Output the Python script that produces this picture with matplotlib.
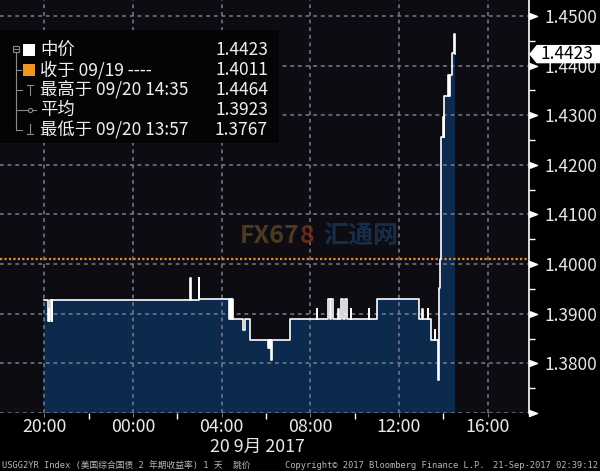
import matplotlib
matplotlib.use("Agg")
import matplotlib.pyplot as plt
import matplotlib.transforms as mtransforms
from matplotlib.lines import Line2D
from matplotlib.patches import Rectangle, Polygon
from matplotlib.path import Path
from matplotlib.markers import MarkerStyle
import numpy as np

plt.rcParams['font.family'] = ['Noto Sans CJK SC', 'DejaVu Sans']

# ---------------- data ----------------
times = ["20:00", "20:09", "20:12", "20:13", "20:15", "20:20", "20:22",
         "02:35", "02:37", "02:58", "03:00",
         "04:21", "04:23", "04:26", "04:28", "04:32", "04:59", "05:02",
         "05:16", "06:06", "06:07", "06:10", "06:11", "06:15", "06:17",
         "07:04", "08:17", "08:19", "08:49", "08:54", "08:57", "09:02",
         "09:16", "09:18", "09:24", "09:29", "09:35", "09:40", "09:49",
         "09:51", "10:38", "10:40", "11:02", "12:54", "13:03", "13:05",
         "13:18", "13:20", "13:26", "13:37", "13:39", "13:46", "13:49",
         "13:52", "13:55", "14:00", "14:02", "14:03", "14:13", "14:15",
         "14:18", "14:24", "14:29", "14:31", "14:32"]
values = [1.3928, 1.3886, 1.3910, 1.3886, 1.3928, 1.3886, 1.3928,
          1.3972, 1.3928, 1.3972, 1.3929,
          1.3889, 1.3929, 1.3889, 1.3929, 1.3889, 1.3868, 1.3889,
          1.3848, 1.3830, 1.3848, 1.3830, 1.3848, 1.3806, 1.3848,
          1.3889, 1.3909, 1.3889, 1.3929, 1.3889, 1.3929, 1.3889,
          1.3909, 1.3889, 1.3929, 1.3889, 1.3929, 1.3889, 1.3909,
          1.3889, 1.3909, 1.3889, 1.3929, 1.3889, 1.3909, 1.3889,
          1.3909, 1.3889, 1.3848, 1.3868, 1.3848, 1.3767, 1.3951,
          1.4011, 1.4257, 1.4297, 1.4257, 1.4339, 1.4381, 1.4339,
          1.4381, 1.4425, 1.4464, 1.4423, 1.4423]
prev_close = 1.4011
last_price = 1.4423

legend_labels = ["中价", "收于 09/19 ----", "最高于 09/20 14:35", "平均", "最低于 09/20 13:57"]
legend_values = ["1.4423", "1.4011", "1.4464", "1.3923", "1.3767"]

ytick_vals = [1.37, 1.38, 1.39, 1.40, 1.41, 1.42, 1.43, 1.44, 1.45]
ytick_labels = ["", "1.3800", "1.3900", "1.4000", "1.4100", "1.4200", "1.4300", "1.4400", "1.4500"]
xtick_hours = [20, 24, 28, 32, 36, 40]
xtick_labels = ["20:00", "00:00", "04:00", "08:00", "12:00", "16:00"]
date_label = "20 9月 2017"
footer_left = "USGG2YR Index (美国综合国债 2 年期收益率) 1 天  跳价"
footer_mid = "Copyright© 2017 Bloomberg Finance L.P."
footer_right = "21-Sep-2017 02:39:12"


def to_hours(s):
    h, m = map(int, s.split(":"))
    v = h + m / 60.0
    return v if h >= 18 else v + 24.0


t = np.array([to_hours(s) for s in times])
v = np.array(values)

W, H = 600, 471
fig = plt.figure(figsize=(6.0, 4.71), dpi=100, facecolor='black')


def fx(px):
    return px / W


def fy(py):
    return 1 - py / H


ax_left, ax_right, ax_top, ax_bot = 0, 529, 0, 413
ax = fig.add_axes([fx(ax_left), fy(ax_bot), fx(ax_right - ax_left), (ax_bot - ax_top) / H])
ax.set_facecolor('#0c0c12')

ymin, ymax = 1.3700, 1.4532
ax.set_ylim(ymin, ymax)
ax.set_xlim(18.0, 41.87)

# fill and line
ax.fill_between(t, v, ymin, step='post', color='#0b2a4d', lw=0, zorder=1)
ax.plot(t, v, drawstyle='steps-post', color='white', lw=1.2, zorder=3)

# grid (drawn explicitly above the fill)
for yv in ytick_vals:
    ax.plot([0, 1], [yv, yv], transform=mtransforms.blended_transform_factory(ax.transAxes, ax.transData),
            color='#7c7c8c', lw=1.1, ls=(0, (2.5, 2.5)), zorder=2.5, solid_capstyle='butt',
            dash_capstyle='butt')
for xv in xtick_hours:
    ax.plot([xv, xv], [0, 1], transform=mtransforms.blended_transform_factory(ax.transData, ax.transAxes),
            color='#7c7c8c', lw=1.1, ls=(0, (2.5, 2.5)), zorder=2.5, dash_capstyle='butt')

# previous close
ax.axhline(prev_close, color='#f0882a', lw=1.6, ls=(0, (1, 1)), zorder=2.6)

ax.set_yticks(ytick_vals)
ax.set_yticklabels(ytick_labels)
ax.set_xticks(xtick_hours)
ax.set_xticklabels(xtick_labels)
ax.set_xticks([22, 26, 30, 34, 38], minor=True)
ax.set_yticks(np.arange(1.375, 1.45, 0.01), minor=True)
ax.set_xlim(18.0, 41.87)
ax.set_ylim(ymin, ymax)

ax.yaxis.tick_right()
ax.tick_params(axis='y', which='major', length=0, pad=11, labelsize=12.5, labelcolor='#e8e8e8')
ax.tick_params(axis='y', which='minor', length=4, width=1, color='white', direction='out')
ax.tick_params(axis='x', which='major', length=3, width=0.8, color='#777777', pad=0.5,
               labelsize=12.8, labelcolor='#e8e8e8')
ax.tick_params(axis='x', which='minor', length=4, width=1, color='white', direction='out')

for s in ['left', 'top', 'bottom']:
    ax.spines[s].set_visible(False)
ax.spines['right'].set_color('white')
ax.spines['right'].set_linewidth(1.2)

# triangle markers at major y ticks
tri = MarkerStyle(Path([(0, -0.75), (2, 0), (0, 0.75), (0, -0.75)],
                       [Path.MOVETO, Path.LINETO, Path.LINETO, Path.CLOSEPOLY]))
blend = mtransforms.blended_transform_factory(ax.transAxes, ax.transData)
ax.plot(np.ones(len(ytick_vals)), ytick_vals, ls='none', marker=tri, ms=11.5,
        color='white', mec='white', transform=blend, clip_on=False, zorder=5)

# last price tag
fig.canvas.draw()
ypix = ax.transData.transform((30, last_price))[1]
ytop_px = H - ypix  # from top
tag = Polygon([[fx(530), fy(ytop_px)], [fx(537), fy(ytop_px - 8.5)], [fx(600), fy(ytop_px - 8.5)],
               [fx(600), fy(ytop_px + 8.5)], [fx(537), fy(ytop_px + 8.5)]],
              closed=True, transform=fig.transFigure, fc='white', ec='white', zorder=10)
fig.add_artist(tag)
fig.text(fx(567), fy(ytop_px), f"{last_price:.4f}", ha='center', va='center', fontsize=12.5,
         color='black', zorder=11)

# watermark
fig.text(fx(240), fy(236), "FX67", fontsize=18, fontweight='bold', color='#5a4222',
         ha='left', va='center', zorder=4, alpha=0.85)
fig.text(fx(300), fy(236), "8", fontsize=18, fontweight='bold', color='#74301b',
         ha='left', va='center', zorder=4, alpha=0.85)
fig.text(fx(323), fy(236), "汇通网", fontsize=18, fontweight='bold', color='#1a3353',
         ha='left', va='center', zorder=4, alpha=0.85)

# legend box
fig.add_artist(Rectangle((fx(0), fy(143)), fx(279), (143 - 30) / H, transform=fig.transFigure,
                         fc='#040406', ec='none', zorder=6))
row_y = [50, 70, 90, 110, 130]
for lab, val, yy in zip(legend_labels, legend_values, row_y):
    fig.text(fx(40), fy(yy), lab, ha='left', va='center', fontsize=12.5, color='#f0f0f0', zorder=8)
    fig.text(fx(268), fy(yy), val, ha='right', va='center', fontsize=12.5, color='#f0f0f0', zorder=8)

gray = '#8a8a8a'


def fline(xs, ys, color=gray, lw=0.8):
    fig.add_artist(Line2D([fx(x) for x in xs], [fy(y) for y in ys], transform=fig.transFigure,
                          color=color, lw=lw, zorder=7))


# tree
fig.add_artist(Rectangle((fx(12.5), fy(51.5)), fx(6), 6 / H, transform=fig.transFigure,
                         fc='none', ec=gray, lw=0.8, zorder=7))
fline([14, 17.5], [48.5, 48.5])
fline([15.5, 15.5], [52, 130])
fline([15.5, 21], [70, 70])
fline([15.5, 22], [90, 90])
fline([27, 33], [85, 85])
fline([30, 30], [85, 95])
fline([15.5, 36], [110, 110])
fig.add_artist(Line2D([fx(30)], [fy(110)], transform=fig.transFigure, marker='o', ms=3,
                      mfc='#040406', mec=gray, mew=0.8, zorder=8))
fline([15.5, 22], [130, 130])
fline([30, 30], [124, 134])
fline([27, 33], [134, 134])
# colour squares
fig.add_artist(Rectangle((fx(23), fy(56)), fx(12), 12 / H, transform=fig.transFigure,
                         fc='white', ec='none', zorder=7))
fig.add_artist(Rectangle((fx(23), fy(76)), fx(12), 12 / H, transform=fig.transFigure,
                         fc='#f0961e', ec='none', zorder=7))

# date label and footer
fig.text(fx(257), fy(447), date_label, ha='center', va='center', fontsize=12.8, color='#e8e8e8')
mono = ['DejaVu Sans Mono', 'Noto Sans CJK SC']
fig.text(fx(2), fy(465), footer_left, ha='left', va='center', fontsize=6.3, color='#b8b8b8', family=mono)
fig.text(fx(285), fy(465), footer_mid, ha='left', va='center', fontsize=6.3, color='#b8b8b8', family=mono)
fig.text(fx(598), fy(465), footer_right, ha='right', va='center', fontsize=6.3, color='#b8b8b8', family=mono)

fig.savefig("out.png", dpi=100, facecolor='black')
